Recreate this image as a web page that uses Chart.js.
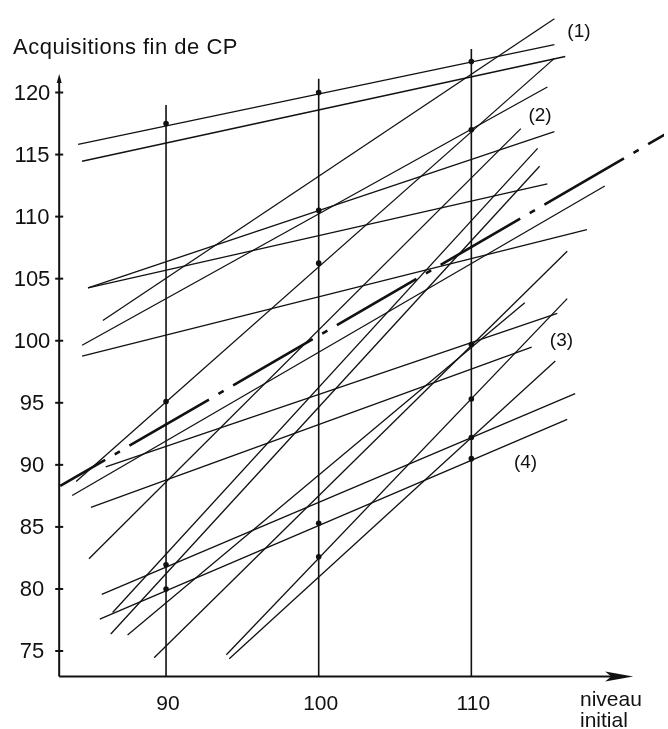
<!DOCTYPE html>
<html>
<head>
<meta charset="utf-8">
<script src="https://cdn.jsdelivr.net/npm/chart.js"></script>
<style>
  html, body { margin: 0; padding: 0; background: #fff; }
  canvas { display: block; }
</style>
</head>
<body>
<canvas id="chart" width="668" height="729"></canvas>
<script>
// Droites de régression par classe : niveau initial (x) -> acquisitions fin de CP (y)
const segX0 = [84.24, 84.50, 85.86, 84.50, 84.89, 84.89, 84.11, 83.85, 86.05, 85.08,
               84.95, 85.79, 85.66, 87.48, 89.22, 93.95, 94.14, 86.38, 86.50, 84.50];
const segY0 = [115.82, 114.46, 101.63, 99.64, 104.26, 104.26, 88.65, 87.53, 89.84, 86.57,
               82.43, 79.56, 77.57, 76.29, 74.46, 74.70, 74.38, 76.37, 78.10, 98.76];
const segX1 = [115.44, 116.15, 115.44, 114.98, 115.44, 114.98, 115.44, 118.74, 115.63, 113.95,
               113.24, 116.80, 116.28, 113.50, 116.28, 116.28, 115.50, 114.47, 114.34, 117.57];
const segY1 = [123.86, 122.90, 125.94, 120.44, 116.85, 112.63, 122.75, 112.47, 102.20, 99.48,
               117.09, 95.74, 93.67, 103.07, 107.21, 103.39, 98.37, 114.06, 115.50, 108.96];

// droite d'ensemble (tiret-point)
const meanX = [83.07, 124.0];
const meanY = [88.30, 117.56];

// repères verticaux et points marqués
const vertX = [90, 100, 110];
const vertTop = [119.0, 121.1, 123.5];
const dotX = [90, 90, 90, 90, 100, 100, 100, 100, 100, 110, 110, 110, 110, 110, 110];
const dotY = [117.5, 95.1, 81.95, 80.0, 120.0, 110.5, 106.25, 85.3, 82.6, 122.5, 117.0, 99.7, 95.3, 92.2, 90.5];

// axes
const yTicks = [75, 80, 85, 90, 95, 100, 105, 110, 115, 120];
const xTicks = [90, 100, 110];
const axisX = [83.0, 120.6];
const axisY = [72.95, 121.5];

// étiquettes des classes
const tagText = ['(1)', '(2)', '(3)', '(4)'];
const tagX = [117.05, 114.5, 115.9, 113.55];
const tagY = [124.9, 118.1, 100.0, 90.2];

const ink = '#111';
const font = '"Liberation Sans", Arial, sans-serif';

const datasets = [];
segX0.forEach((x0, i) => {
  datasets.push({
    data: [{ x: x0, y: segY0[i] }, { x: segX1[i], y: segY1[i] }],
    showLine: true, borderColor: ink, borderWidth: 1.3, pointRadius: 0
  });
});
vertX.forEach((vx, i) => {
  datasets.push({
    data: [{ x: vx, y: axisY[0] }, { x: vx, y: vertTop[i] }],
    showLine: true, borderColor: ink, borderWidth: 1.6, pointRadius: 0
  });
});
datasets.push({
  data: meanX.map((x, i) => ({ x, y: meanY[i] })),
  showLine: true, borderColor: ink, borderWidth: 2.6, pointRadius: 0,
  borderDash: [92, 11, 6, 11], borderDashOffset: 40
});
datasets.push({
  data: dotX.map((x, i) => ({ x, y: dotY[i] })),
  showLine: false, pointRadius: 2.8, pointBackgroundColor: ink, pointBorderWidth: 0
});

// dessin des axes, graduations et textes
const axes = {
  id: 'axes',
  beforeDatasetsDraw(chart) {
    const { ctx, scales: { x, y } } = chart;
    const X = v => x.getPixelForValue(v);
    const Y = v => y.getPixelForValue(v);
    ctx.save();
    ctx.strokeStyle = ink;
    ctx.fillStyle = ink;
    ctx.lineWidth = 2;
    const x0 = X(axisX[0]), y0 = Y(axisY[0]), x1 = X(axisX[1]), y1 = Y(axisY[1]);
    ctx.beginPath();
    ctx.moveTo(x0, y0); ctx.lineTo(x1 - 10, y0);
    ctx.moveTo(x0, y0); ctx.lineTo(x0, y1 + 4);
    ctx.stroke();
    // flèche horizontale
    ctx.beginPath();
    ctx.moveTo(x1, y0); ctx.lineTo(x1 - 28, y0 - 5); ctx.lineTo(x1 - 22, y0); ctx.lineTo(x1 - 28, y0 + 5);
    ctx.closePath(); ctx.fill();
    // flèche verticale
    ctx.beginPath();
    ctx.moveTo(x0, y1); ctx.lineTo(x0 - 2.5, y1 + 9); ctx.lineTo(x0 + 2.5, y1 + 9);
    ctx.closePath(); ctx.fill();
    // graduations
    yTicks.forEach(t => {
      ctx.beginPath(); ctx.moveTo(x0 - 4, Y(t)); ctx.lineTo(x0 + 4, Y(t)); ctx.stroke();
    });
    ctx.font = '22px ' + font;
    ctx.textAlign = 'center';
    ctx.textBaseline = 'middle';
    yTicks.forEach(t => ctx.fillText(String(t), 32, Y(t) + 1));
    ctx.font = '21px ' + font;
    ctx.textBaseline = 'alphabetic';
    xTicks.forEach(t => ctx.fillText(String(t), X(t) + 2, 710));
    ctx.textAlign = 'left';
    ctx.fillText('niveau', 580, 706);
    ctx.fillText('initial', 580, 727);
    ctx.font = '22px ' + font;
    ctx.letterSpacing = '0.5px';
    ctx.fillText('Acquisitions fin de CP', 13, 54);
    ctx.letterSpacing = '0px';
    ctx.font = '19px ' + font;
    ctx.textAlign = 'center';
    ctx.textBaseline = 'middle';
    tagText.forEach((s, i) => ctx.fillText(s, X(tagX[i]), Y(tagY[i])));
    ctx.restore();
  }
};

new Chart(document.getElementById('chart'), {
  type: 'scatter',
  data: { datasets },
  options: {
    responsive: false,
    animation: false,
    layout: { padding: 0 },
    plugins: { legend: { display: false }, tooltip: { enabled: false } },
    scales: {
      x: { type: 'linear', min: 79.385, max: 122.62, display: false },
      y: { type: 'linear', min: 69.04, max: 127.13, display: false }
    }
  },
  plugins: [axes]
});
</script>
</body>
</html>
